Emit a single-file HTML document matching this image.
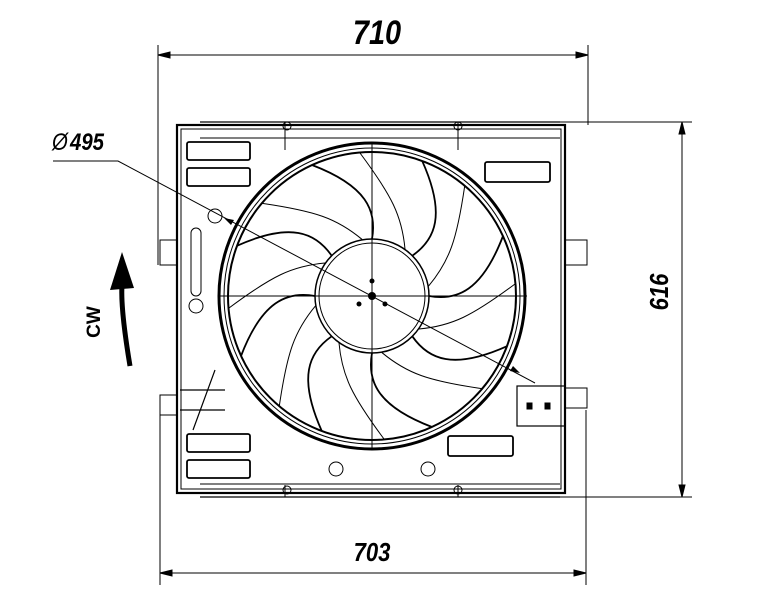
<!DOCTYPE html>
<html><head><style>
html,body{margin:0;padding:0;background:#fff;}
svg{display:block;}
text{font-family:"Liberation Sans",sans-serif;}
</style></head><body>
<svg width="765" height="612" viewBox="0 0 765 612" xmlns="http://www.w3.org/2000/svg">
<defs>
<g id="blade" fill="none" stroke="#000" stroke-width="1.8">
<path d="M0,-57 C5,-85 -5,-110 -60,-131"/>
<path d="M33,-47 C30,-80 20,-100 -12,-143" stroke-width="1"/>
</g>
</defs>
<g stroke="#000" fill="none">
<line x1="158" y1="45" x2="158" y2="265" stroke-width="1"/>
<line x1="588" y1="45" x2="588" y2="125" stroke-width="1"/>
<line x1="158" y1="55" x2="588" y2="55" stroke-width="1"/>
<path d="M158,55 l12,-3 v6z M588,55 l-12,-3 v6z" fill="#000"/>
<line x1="160" y1="410" x2="160" y2="585" stroke-width="1"/>
<line x1="586" y1="410" x2="586" y2="585" stroke-width="1"/>
<line x1="160" y1="573" x2="586" y2="573" stroke-width="1"/>
<path d="M160,573 l12,-3 v6z M586,573 l-12,-3 v6z" fill="#000"/>
<line x1="545" y1="122" x2="692" y2="122" stroke-width="1"/>
<line x1="545" y1="497" x2="692" y2="497" stroke-width="1"/>
<line x1="682" y1="122" x2="682" y2="497" stroke-width="1"/>
<path d="M682,122 l-3,12 h6z M682,497 l-3,-12 h6z" fill="#000"/>
<rect x="177" y="125" width="388" height="368" stroke-width="2.2"/>
<rect x="181" y="129" width="380" height="360" stroke-width="1"/>
<line x1="200" y1="122" x2="560" y2="122" stroke-width="1.2"/>
<line x1="200" y1="138" x2="560" y2="138" stroke-width="1"/>
<line x1="200" y1="484" x2="560" y2="484" stroke-width="1"/>
<line x1="200" y1="497" x2="560" y2="497" stroke-width="1.2"/>
<path d="M177,240 h-17 v25 h17 M565,240 h22 v25 h-22 M177,395 h-17 v20 h17 M565,388 h22 v20 h-22" stroke-width="1"/>
<g stroke-width="1.8">
<rect x="187" y="142" width="63" height="18" rx="2"/>
<rect x="187" y="168" width="63" height="18" rx="2"/>
<rect x="485" y="162" width="65" height="20" rx="2"/>
<rect x="187" y="434" width="63" height="18" rx="2"/>
<rect x="187" y="460" width="63" height="18" rx="2"/>
<rect x="448" y="436" width="65" height="20" rx="2"/>
</g>
<rect x="191" y="228" width="10" height="68" rx="5" stroke-width="1"/>
<circle cx="215" cy="216" r="7" stroke-width="1"/>
<circle cx="196" cy="306" r="7" stroke-width="1"/>
<circle cx="336" cy="469" r="7" stroke-width="1"/>
<circle cx="428" cy="469" r="7" stroke-width="1"/>
<rect x="517" y="386" width="48" height="40" stroke-width="1.2"/>
<rect x="527" y="403" width="5" height="6" fill="#000"/>
<rect x="545" y="403" width="5" height="6" fill="#000"/>
<path d="M215,370 l-22,60 M180,390 h45 M180,410 h45" stroke-width="1.2"/>
<path d="M285,122 v28 M458,122 v28 M285,497 v-12 M458,497 v-12" stroke-width="1"/>
<circle cx="287" cy="126" r="4" stroke-width="1"/>
<circle cx="458" cy="126" r="4" stroke-width="1"/>
<circle cx="287" cy="490" r="4" stroke-width="1"/>
<circle cx="458" cy="490" r="4" stroke-width="1"/>
<circle cx="372" cy="296" r="153" stroke-width="3"/>
<circle cx="372" cy="296" r="148" stroke-width="1"/>
<circle cx="372" cy="296" r="144" stroke-width="2"/>
<circle cx="372" cy="296" r="57" stroke-width="1.5"/>
<circle cx="372" cy="296" r="53" stroke-width="1"/>
<g transform="translate(372,296)">
<use href="#blade" transform="rotate(0)"/>
<use href="#blade" transform="rotate(45)"/>
<use href="#blade" transform="rotate(90)"/>
<use href="#blade" transform="rotate(135)"/>
<use href="#blade" transform="rotate(180)"/>
<use href="#blade" transform="rotate(225)"/>
<use href="#blade" transform="rotate(270)"/>
<use href="#blade" transform="rotate(315)"/>
</g>
<line x1="372" y1="142" x2="372" y2="450" stroke-width="1"/>
<line x1="219" y1="296" x2="527" y2="296" stroke-width="1"/>
<path d="M53,161 H118 L535,383" stroke-width="1"/>
</g>
<g fill="#000">
<circle cx="372" cy="296" r="4"/>
<circle cx="372" cy="281" r="2.5"/>
<circle cx="359" cy="304" r="2.5"/>
<circle cx="385" cy="304" r="2.5"/>
<path d="M224,218 l10,2 l-3,5z"/>
<path d="M520,373 l-10,-2 l3,-5z"/>
</g>
<path d="M130,366 C124,330 121,300 122,285" stroke="#000" stroke-width="5" fill="none"/>
<path d="M122,252 L110,290 L134,288z" fill="#000"/>
<text x="100" y="322" font-size="19" font-weight="bold" font-family="Liberation Serif,serif" transform="rotate(-90 100 322)" text-anchor="middle">CW</text>
<text x="0" y="0" font-size="34" font-style="italic" font-weight="bold" text-anchor="middle" transform="translate(377,44) scale(0.85,1)">710</text>
<text x="0" y="0" font-size="26" font-style="italic" font-weight="bold" text-anchor="middle" transform="translate(372,561) scale(0.85,1)">703</text>
<text x="0" y="0" font-size="26" font-style="italic" font-weight="bold" text-anchor="middle" transform="translate(668,292) rotate(-90) scale(0.85,1)">616</text>
<text x="0" y="0" font-size="24" font-style="italic" transform="translate(52,150) scale(0.85,1)">Ø</text>
<text x="0" y="0" font-size="24" font-style="italic" font-weight="bold" transform="translate(70,150) scale(0.85,1)">495</text>
</svg>
</body></html>
